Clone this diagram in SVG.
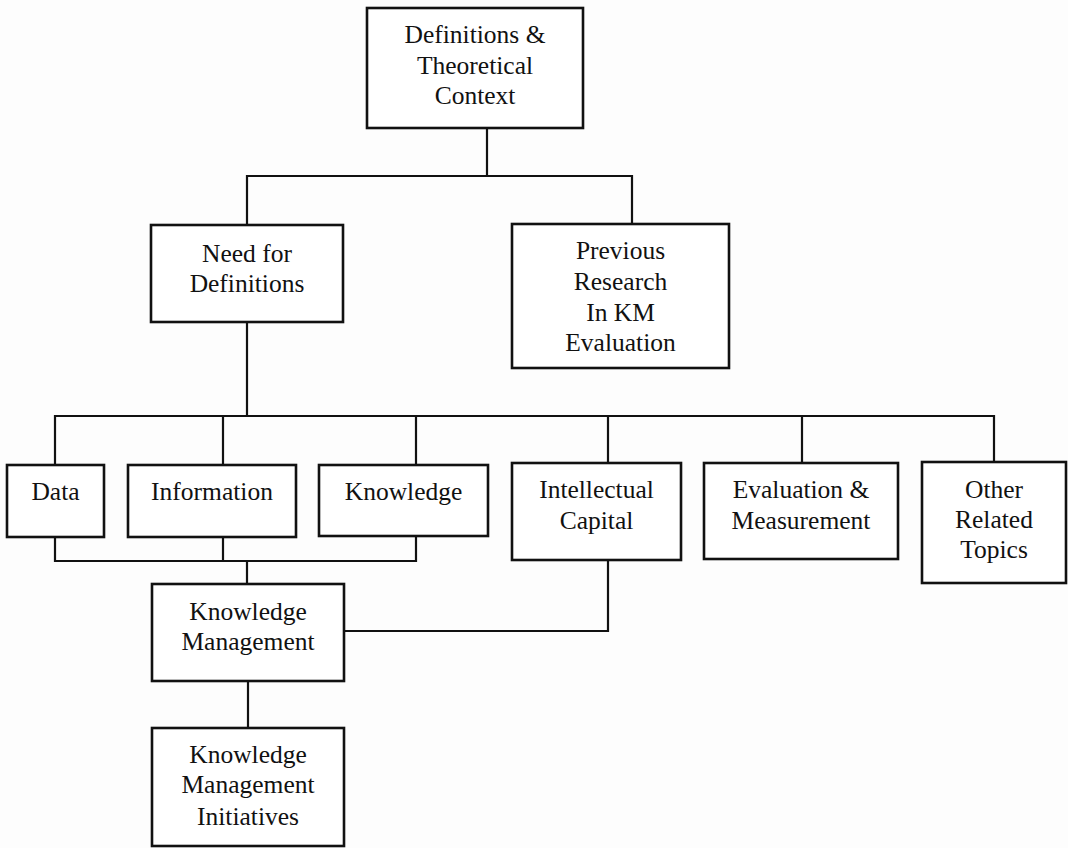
<svg xmlns="http://www.w3.org/2000/svg" width="1068" height="848" viewBox="0 0 1068 848">
  <style>
    .box { fill: #fff; stroke: #111; stroke-width: 2.6; }
    .wire { fill: none; stroke: #111; stroke-width: 2.2; }
    text { font-family: "Liberation Serif", "Times New Roman", serif; font-size: 25.5px; fill: #111; text-anchor: middle; }
  </style>
  <rect width="1068" height="848" fill="#fdfdfd"/>

  <g id="connectors">
    <path class="wire" d="M487 128 V176 M247 224 V176 H632 V224"/>
    <path class="wire" d="M247 322 V416 M55 465 V416 H994 V462 M223 416 V465 M416 416 V465 M608 416 V463 M802 416 V463"/>
    <path class="wire" d="M55 537 V561 H416 V536 M223 537 V561 M247 561 V584"/>
    <path class="wire" d="M344 631 H608 V560"/>
    <path class="wire" d="M248 681 V728"/>
  </g>

  <g id="definitions-context">
    <rect class="box" x="367" y="8" width="216" height="120"/>
    <text x="475" y="43">Definitions &amp;</text>
    <text x="475" y="74">Theoretical</text>
    <text x="475" y="104">Context</text>
  </g>

  <g id="need-for-definitions">
    <rect class="box" x="151" y="225" width="192" height="97"/>
    <text x="247" y="262">Need for</text>
    <text x="247" y="292">Definitions</text>
  </g>

  <g id="previous-research">
    <rect class="box" x="512" y="224" width="217" height="144"/>
    <text x="620.5" y="259">Previous</text>
    <text x="620.5" y="290">Research</text>
    <text x="620.5" y="321">In KM</text>
    <text x="620.5" y="351">Evaluation</text>
  </g>

  <g id="data">
    <rect class="box" x="7" y="465" width="97" height="72"/>
    <text x="55.5" y="500">Data</text>
  </g>

  <g id="information">
    <rect class="box" x="128" y="465" width="168" height="72"/>
    <text x="212" y="500">Information</text>
  </g>

  <g id="knowledge">
    <rect class="box" x="319" y="465" width="169" height="71"/>
    <text x="403.5" y="500">Knowledge</text>
  </g>

  <g id="intellectual-capital">
    <rect class="box" x="512" y="463" width="169" height="97"/>
    <text x="596.5" y="498">Intellectual</text>
    <text x="596.5" y="529">Capital</text>
  </g>

  <g id="evaluation-measurement">
    <rect class="box" x="704" y="463" width="194" height="96"/>
    <text x="801" y="498">Evaluation &amp;</text>
    <text x="801" y="529">Measurement</text>
  </g>

  <g id="other-related-topics">
    <rect class="box" x="922" y="462" width="144" height="121"/>
    <text x="994" y="498">Other</text>
    <text x="994" y="528">Related</text>
    <text x="994" y="558">Topics</text>
  </g>

  <g id="knowledge-management">
    <rect class="box" x="152" y="584" width="192" height="97"/>
    <text x="248" y="620">Knowledge</text>
    <text x="248" y="650">Management</text>
  </g>

  <g id="km-initiatives">
    <rect class="box" x="152" y="728" width="192" height="118"/>
    <text x="248" y="763">Knowledge</text>
    <text x="248" y="793">Management</text>
    <text x="248" y="825">Initiatives</text>
  </g>
</svg>
